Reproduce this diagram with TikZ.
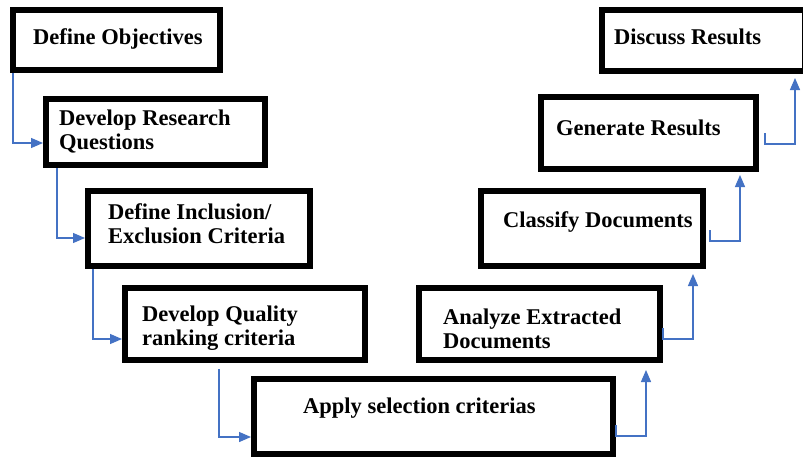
\documentclass[tikz,border=0pt]{standalone}
\usepackage{fontspec}
\setmainfont{Liberation Serif}
\usetikzlibrary{arrows.meta,calc}
\definecolor{connblue}{HTML}{4472C4}
\begin{document}
\begin{tikzpicture}[x=1pt,y=-1pt,
  stepbox/.style={draw=black, line width=6pt, inner sep=0pt, outer sep=3pt, anchor=north west, fill=white},
  lbl/.style={anchor=base west, inner sep=0pt, align=left, font=\bfseries\fontsize{22.5}{24}\selectfont, text=black},
  conn/.style={draw=connblue, line width=1.3pt, -{Triangle[length=12pt,width=10pt]}}]
\fill[white] (0,0) rectangle (803,460);
\clip (0,0) rectangle (803,460);
\useasboundingbox (0,0) rectangle (803,460);
% boxes (outer edges)
\node[stepbox, minimum width=207pt, minimum height=60pt] (b1) at (10,7) {};
\node[stepbox, minimum width=219pt, minimum height=66pt] (b2) at (43,96) {};
\node[stepbox, minimum width=222pt, minimum height=75pt] (b3) at (85,188) {};
\node[stepbox, minimum width=240pt, minimum height=72pt] (b4) at (122,285) {};
\node[stepbox, minimum width=359pt, minimum height=75pt] (b5) at (251,376) {};
\node[stepbox, minimum width=241pt, minimum height=72pt] (b6) at (416,285) {};
\node[stepbox, minimum width=222pt, minimum height=75pt] (b7) at (478,188) {};
\node[stepbox, minimum width=215pt, minimum height=72pt] (b8) at (538,94) {};
\node[stepbox, minimum width=203pt, minimum height=61pt] (b9) at (599,7) {};
% texts (base = baseline of last line)
\node[lbl] (t1) at (33,45) {Define Objectives};
\node[lbl] (t2) at (59,149) {Develop Research\\Questions};
\node[lbl] (t3) at (108,243) {Define Inclusion/\\Exclusion Criteria};
\node[lbl] (t4) at (142,345) {Develop Quality\\ranking criteria};
\node[lbl] (t5) at (303,413) {Apply selection criterias};
\node[lbl] (t6) at (443,348) {Analyze Extracted\\Documents};
\node[lbl] (t7) at (503,227) {Classify Documents};
\node[lbl] (t8) at (556,135) {Generate Results};
\node[lbl] (t9) at (614,45) {Discuss Results};
% connectors
\draw[conn] ([xshift=3pt]b1.south west) |- ([yshift=-11pt]b2.west);
\draw[conn] ([xshift=14pt]b2.south west) |- ([yshift=-9.5pt]b3.west);
\draw[conn] ([xshift=8pt]b3.south west) |- ([yshift=-15pt]b4.west);
\draw[conn] ([xshift=97pt,yshift=-6pt]b4.south west) |- ([yshift=-20.5pt]b5.west);
\draw[conn] ([yshift=-8.5pt]b5.east) -- ++(0,11) -| ([xshift=-17pt,yshift=-7pt]b6.south east);
\draw[conn] ([yshift=-4pt]b6.east) -- ++(0,11) -| ([xshift=-13pt,yshift=-5pt]b7.south east);
\draw[conn] ([xshift=4pt,yshift=-1.5pt]b7.east) -- ++(0,11) -| ([xshift=-19pt,yshift=-3pt]b8.south east);
\draw[conn] ([xshift=6pt]b8.east) -- ++(0,11) -| ([xshift=-13pt,yshift=-4pt]b9.south east);
\end{tikzpicture}
\end{document}
